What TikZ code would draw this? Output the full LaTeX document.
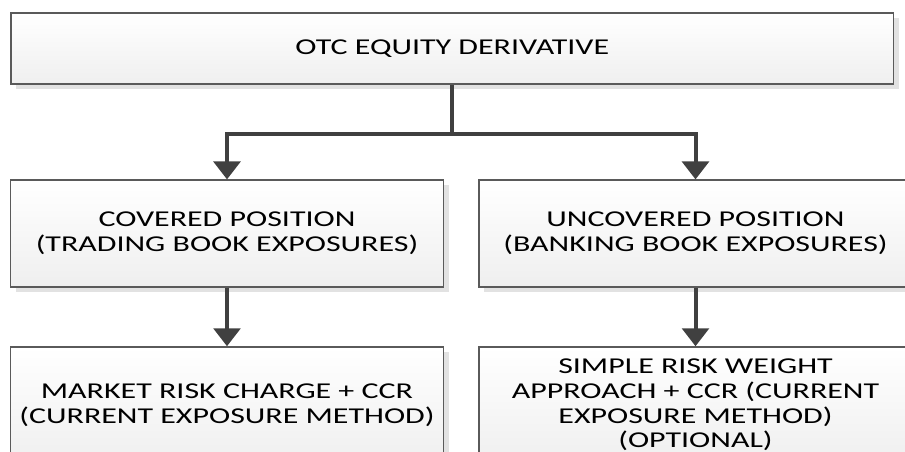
\documentclass[tikz,border=0pt]{standalone}
\usepackage{fontspec}
\setmainfont{Carlito}[FakeStretch=1.41]
\usepackage{tikz}
\usetikzlibrary{arrows.meta, positioning, shadows, calc}
\definecolor{boxline}{HTML}{5a5a5a}
\definecolor{boxtop}{HTML}{ffffff}
\definecolor{boxbot}{HTML}{efefef}
\definecolor{shade}{HTML}{e2e2e2}
\definecolor{darkgray}{HTML}{404040}

\begin{document}
\begin{tikzpicture}[
  x=0.75pt, y=0.75pt,
  box/.style={rectangle, draw=boxline, line width=1.1pt,
              top color=boxtop, bottom color=boxbot,
              drop shadow={shadow xshift=4pt, shadow yshift=-4pt,
                           fill=shade, opacity=1},
              font=\fontsize{17}{18.5}\selectfont, align=center,
              inner sep=0pt},
  wide/.style={box, minimum width=662pt, minimum height=53pt},
  half/.style={box, minimum width=325pt, minimum height=80pt},
  arr/.style={-{Triangle[width=20pt,length=13.5pt]}, line width=3pt, color=darkgray},
  stem/.style={line width=3pt, color=darkgray}
]
\useasboundingbox (0,0) rectangle (905,452);
\clip (0,0) rectangle (905,452);

\node[wide] (top) at (452.3,403.5) {OTC EQUITY DERIVATIVE};
\node[half] (covered) at (227,218.5) {COVERED POSITION\\(TRADING BOOK EXPOSURES)};
\node[half] (uncovered) at (695.5,218.5) {UNCOVERED POSITION\\(BANKING BOOK EXPOSURES)};
\node[half, minimum height=87pt] (market) at (227,47) {MARKET RISK CHARGE + CCR\\(CURRENT EXPOSURE METHOD)};
\node[half, minimum height=87pt] (simple) at (695.5,47) {SIMPLE RISK WEIGHT\\APPROACH + CCR (CURRENT\\EXPOSURE METHOD)\\(OPTIONAL)};

\coordinate (split) at ($(top.south)+(0,-49)$);
\draw[stem] (top.south) -- (split);
\draw[arr] (split) -| (covered.north);
\draw[arr] (split) -| (uncovered.north);
\draw[arr] (covered) -- (market);
\draw[arr] (uncovered) -- (simple);
\end{tikzpicture}
\end{document}
